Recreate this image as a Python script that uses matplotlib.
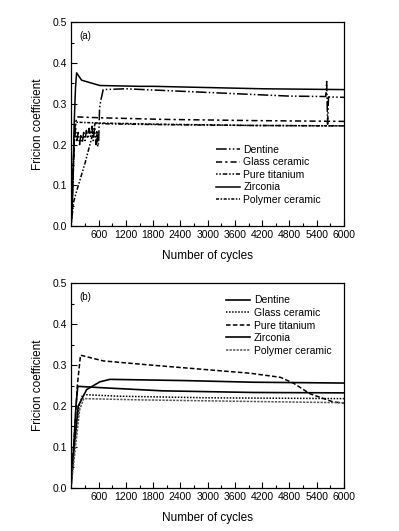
import matplotlib
matplotlib.use("Agg")
import matplotlib.pyplot as plt
from matplotlib.ticker import MultipleLocator, FixedLocator

plt.rcParams['font.family'] = ['Liberation Sans', 'DejaVu Sans']

labels = ["Dentine", "Glass ceramic", "Pure titanium", "Zirconia", "Polymer ceramic"]
xticks = [600, 1200, 1800, 2400, 3000, 3600, 4200, 4800, 5400, 6000]

# ---- panel (a) data ----
a_dentine_x = [0, 30, 60, 90, 120, 150, 180, 210, 240, 270, 300, 330, 360, 390, 420, 450,
               480, 510, 540, 560, 580, 600, 620, 650, 700, 1200, 3000, 4800, 5600, 5620,
               5640, 5660, 5680, 6000]
a_dentine_y = [0.015, 0.10, 0.20, 0.24, 0.21, 0.23, 0.20, 0.225, 0.205, 0.23, 0.21, 0.235,
               0.215, 0.24, 0.22, 0.245, 0.21, 0.24, 0.20, 0.235, 0.195, 0.21, 0.29, 0.31,
               0.335, 0.337, 0.328, 0.319, 0.318, 0.355, 0.25, 0.317, 0.317, 0.316]
a_glass_x = [0, 40, 80, 128, 600, 2000, 4000, 6000]
a_glass_y = [0.02, 0.15, 0.25, 0.268, 0.266, 0.262, 0.259, 0.257]
a_ti_x = [0, 50, 99, 300, 480, 520, 800, 2000, 4000, 6000]
a_ti_y = [0.01, 0.06, 0.08, 0.155, 0.231, 0.252, 0.251, 0.249, 0.247, 0.246]
a_zr_x = [0, 20, 60, 90, 114, 225, 627, 1500, 1800, 3000, 4200, 6000]
a_zr_y = [0.01, 0.05, 0.25, 0.34, 0.376, 0.358, 0.345, 0.343, 0.343, 0.340, 0.337, 0.335]
a_poly_x = [0, 40, 70, 110, 600, 2000, 4000, 6000]
a_poly_y = [0.02, 0.13, 0.24, 0.255, 0.253, 0.250, 0.247, 0.246]

# ---- panel (b) data ----
b_dentine_x = [0, 60, 150, 335, 627, 850, 2500, 4000, 6000]
b_dentine_y = [0.02, 0.10, 0.20, 0.24, 0.259, 0.265, 0.262, 0.258, 0.256]
b_glass_x = [0, 80, 170, 250, 1000, 3000, 6000]
b_glass_y = [0.03, 0.12, 0.20, 0.228, 0.224, 0.220, 0.218]
b_ti_x = [0, 60, 130, 200, 700, 1730, 3930, 4600, 4900, 5250, 5760, 6000]
b_ti_y = [0.024, 0.12, 0.25, 0.324, 0.310, 0.300, 0.280, 0.270, 0.255, 0.230, 0.210, 0.207]
b_zr_x = [0, 50, 100, 140, 600, 2000, 4000, 6000]
b_zr_y = [0.01, 0.10, 0.20, 0.248, 0.245, 0.237, 0.233, 0.232]
b_poly_x = [0, 90, 180, 270, 1500, 4000, 6000]
b_poly_y = [0.01, 0.10, 0.19, 0.218, 0.215, 0.211, 0.208]

a_styles = [(0, (7, 1.5, 1, 1.5, 1, 1.5)), (0, (4, 2, 1.5, 2)), (0, (1, 1.2, 1, 1.2, 3, 1.2)),
            '-', (0, (2, 1, 1, 1))]
b_styles = ['-', (0, (1, 1)), (0, (3, 1.5)), '-', (0, (1.5, 0.8))]
b_colors = ['black', 'black', 'black', 'black', '#555555']

fig = plt.figure(figsize=(3.99, 5.31), dpi=100)
ax1 = fig.add_axes([0.179, 0.574, 0.683, 0.384])
ax2 = fig.add_axes([0.179, 0.081, 0.683, 0.386])

a_data = [(a_dentine_x, a_dentine_y), (a_glass_x, a_glass_y), (a_ti_x, a_ti_y),
          (a_zr_x, a_zr_y), (a_poly_x, a_poly_y)]
b_data = [(b_dentine_x, b_dentine_y), (b_glass_x, b_glass_y), (b_ti_x, b_ti_y),
          (b_zr_x, b_zr_y), (b_poly_x, b_poly_y)]

for (x, y), lab, ls in zip(a_data, labels, a_styles):
    ax1.plot(x, y, color='black', lw=1.1, linestyle=ls, label=lab)
for (x, y), lab, ls, c in zip(b_data, labels, b_styles, b_colors):
    ax2.plot(x, y, color=c, lw=1.1 if ls != '-' else 1.2, linestyle=ls, label=lab)

for ax, tag in [(ax1, '(a)'), (ax2, '(b)')]:
    ax.set_xlim(0, 6000)
    ax.set_ylim(0, 0.5)
    ax.xaxis.set_major_locator(FixedLocator(xticks))
    ax.xaxis.set_minor_locator(MultipleLocator(300))
    ax.yaxis.set_major_locator(MultipleLocator(0.1))
    ax.yaxis.set_minor_locator(MultipleLocator(0.05))
    ax.yaxis.set_major_formatter(plt.FormatStrFormatter('%.1f'))
    ax.tick_params(which='both', direction='in', top=False, right=False, labelsize=7.5,
                   width=0.8, pad=3)
    ax.tick_params(which='major', length=4)
    ax.tick_params(which='minor', length=2.5)
    for s in ax.spines.values():
        s.set_linewidth(0.9)
    ax.set_xlabel('Number of cycles', fontsize=8.5, labelpad=7)
    ax.set_ylabel('Fricion coefficient', fontsize=8.5, labelpad=6)
    ax.text(0.03, 0.955, tag, transform=ax.transAxes, fontsize=7, va='top', ha='left')

leg_kw = dict(frameon=False, fontsize=7.5, handlelength=2.3, handletextpad=0.35,
              labelspacing=0.25, borderpad=0, borderaxespad=0, loc='upper left')
ax1.legend(bbox_to_anchor=(0.53, 0.40), **leg_kw)
ax2.legend(bbox_to_anchor=(0.568, 0.94), **leg_kw)

fig.savefig('out.png', dpi=100)
